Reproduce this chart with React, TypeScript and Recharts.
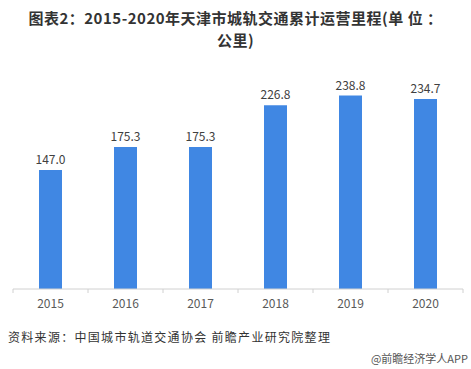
import { BarChart, Bar, XAxis, YAxis, LabelList } from 'recharts'

const years = ['2015', '2016', '2017', '2018', '2019', '2020']
const mileage = [147.0, 175.3, 175.3, 226.8, 238.8, 234.7]

const data = years.map((year, i) => ({ year, mileage: mileage[i] }))

const font = '"Microsoft YaHei", "Noto Sans CJK SC", sans-serif'
const band = 75

function YearTick(props: any) {
  const { x, y, payload, index } = props
  return (
    <g>
      <line x1={x - band / 2} y1={y - 8} x2={x - band / 2} y2={y - 4} stroke="#d0d0d0" />
      {index === years.length - 1 && (
        <line x1={x + band / 2} y1={y - 8} x2={x + band / 2} y2={y - 4} stroke="#d0d0d0" />
      )}
      <text x={x} y={y + 11} textAnchor="middle" fill="#595959" fontSize={12} fontFamily={font}>
        {payload.value}
      </text>
    </g>
  )
}

const titleStyle = {
  position: 'absolute' as const, left: 0, width: 471, textAlign: 'center' as const,
  fontSize: 15, letterSpacing: 0.5, fontWeight: 'bold' as const, color: '#333', lineHeight: '18px', height: 18,
}

export default function App() {
  return (
    <div style={{ position: 'absolute', left: 0, top: 0, width: 471, height: 369, background: '#fff', fontFamily: font }}>
      <div style={{ ...titleStyle, top: 9 }}>图表2：2015-2020年天津市城轨交通累计运营里程(单 位 ：</div>
      <div style={{ ...titleStyle, top: 31 }}>公里)</div>
      <BarChart width={471} height={369} data={data} margin={{ top: 46, right: 8, left: 13, bottom: 50 }}>
        <XAxis dataKey="year" height={30} tickLine={false} axisLine={{ stroke: '#d0d0d0' }} tick={<YearTick />} interval={0} />
        <YAxis hide domain={[0, 300]} />
        <Bar dataKey="mileage" fill="#4087e3" barSize={23} isAnimationActive={false}>
          <LabelList dataKey="mileage" position="top" offset={6} fill="#404040" fontSize={12} fontFamily={font} formatter={(v: any) => Number(v).toFixed(1)} />
        </Bar>
      </BarChart>
      <div style={{ position: 'absolute', left: 8, top: 328, fontSize: 12, letterSpacing: 1.3, color: '#333' }}>
        资料来源：中国城市轨道交通协会 前瞻产业研究院整理
      </div>
      <div style={{ position: 'absolute', right: 3, top: 350, fontSize: 11, color: '#555' }}>
        @前瞻经济学人APP
      </div>
    </div>
  )
}
